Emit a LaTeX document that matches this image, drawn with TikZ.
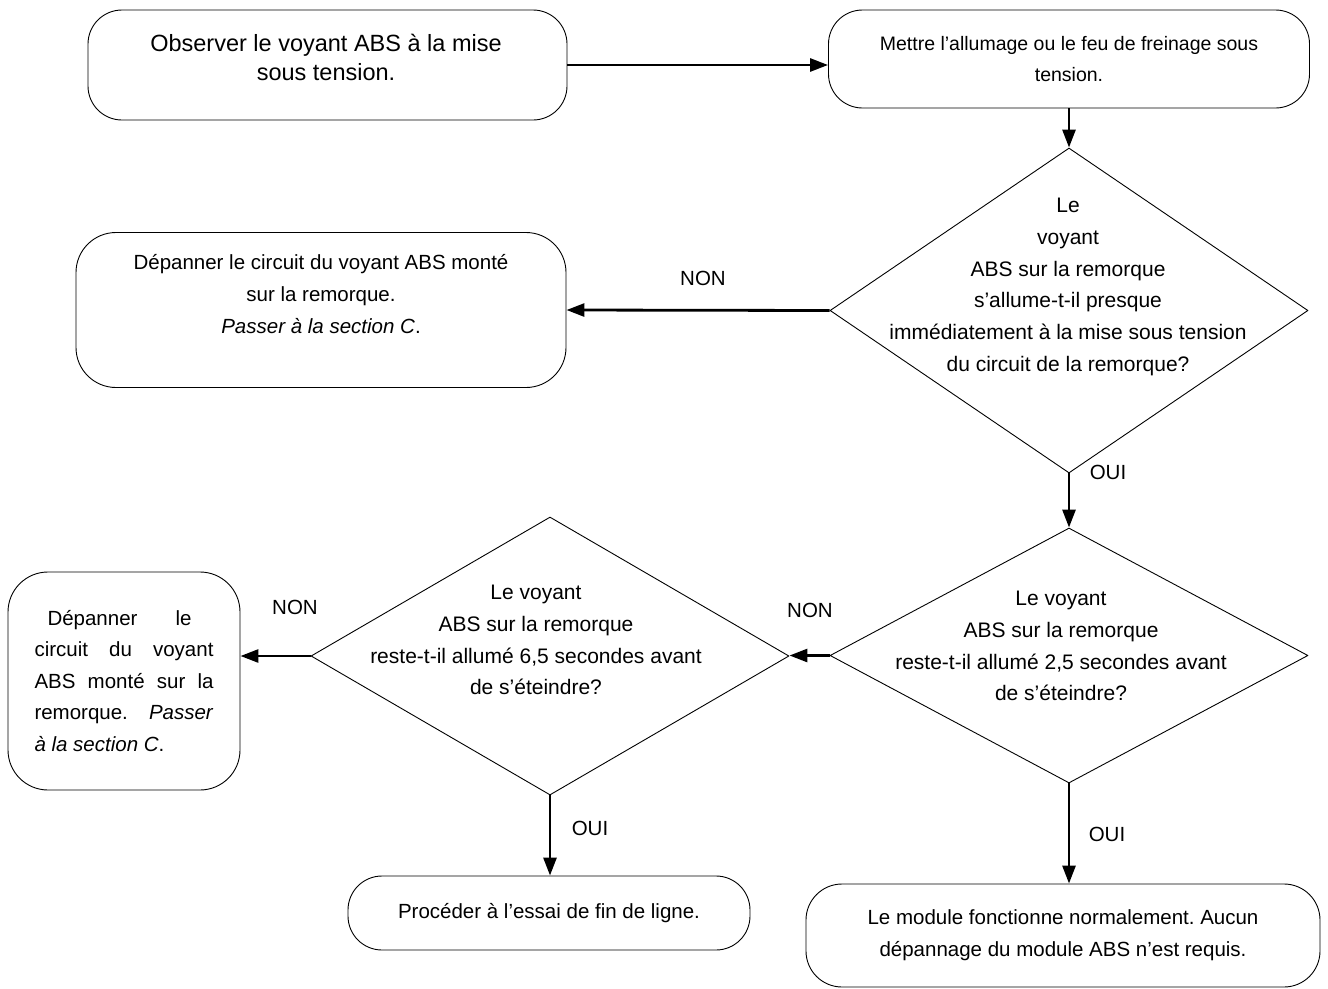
\documentclass[tikz,border=0pt]{standalone}
\usepackage{fontspec}
\setmainfont{Liberation Sans}
\usetikzlibrary{shapes.geometric,arrows.meta}
\frenchspacing
\tikzset{
  stepbox/.style={draw, line width=0.9pt, rounded corners=34pt, align=center, inner sep=0pt,
    font=\fontsize{20.5}{32}\selectfont},
  decision/.style={draw, diamond, line width=0.9pt, inner sep=0pt},
  qtext/.style={align=center, font=\fontsize{21}{31.8}\selectfont},
  flow/.style={-{Triangle[length=18pt,width=13pt]}, line width=2.8pt},
  answer/.style={font=\fontsize{20.5}{24}\selectfont}
}
\begin{document}
\begin{tikzpicture}[x=1pt, y=-1pt, line join=round]
	\useasboundingbox (0,0) rectangle (1328,988);
	% boites et losanges
	\node[stepbox, minimum width=479pt, minimum height=110pt] (obs) at (327.5,65) {};
	\node[align=center, font=\fontsize{23.5}{29}\selectfont] (obst) at (326,57) {Observer le voyant ABS à la mise\\sous tension.};
	\node[stepbox, minimum width=481pt, minimum height=98pt, font=\fontsize{19.5}{31}\selectfont] (mettre) at (1069,59) {Mettre l’allumage ou le feu de freinage sous\\tension.};
	\node[decision, minimum width=478pt, minimum height=325pt] (q1) at (1069,310.5) {};
	\node[qtext] (q1t) at (1068,287) {Le\\voyant\\ABS sur la remorque\\s’allume-t-il presque\\immédiatement à la mise sous tension\\du circuit de la remorque?};
	\node[stepbox, minimum width=490pt, minimum height=155pt, rounded corners=40pt] (circ1) at (321,310) {};
	\node[align=center, font=\fontsize{20.5}{32}\selectfont] (circ1t) at (321,294) {Dépanner le circuit du voyant ABS monté\\sur la remorque.\\\textit{Passer à la section C}.};
	\node[decision, minimum width=478pt, minimum height=255pt] (q2) at (1069,655.5) {};
	\node[qtext] (q2t) at (1061,646) {Le voyant\\ABS sur la remorque\\reste-t-il allumé 2,5 secondes avant\\de s’éteindre?};
	\node[decision, minimum width=478pt, minimum height=278pt] (q3) at (550,656) {};
	\node[qtext] (q3t) at (536,640) {Le voyant\\ABS sur la remorque\\reste-t-il allumé 6,5 secondes avant\\de s’éteindre?};
	\node[stepbox, minimum width=232pt, minimum height=218pt, rounded corners=40pt, align=left, font=\fontsize{20.5}{31.5}\selectfont] (circ2) at (124,681) {\hspace*{13pt}\makebox[144pt][s]{Dépanner le}\\\makebox[179pt][s]{circuit du voyant}\\\makebox[179pt][s]{ABS monté sur la}\\\makebox[179pt][s]{remorque. \textit{Passer}}\\\textit{à la section C}.};
	\node[stepbox, minimum width=402pt, minimum height=74pt] (essai) at (549,913) {Procéder à l’essai de fin de ligne.};
	\node[stepbox, minimum width=514pt, minimum height=103pt, rounded corners=36pt] (module) at (1063,935.5) {Le module fonctionne normalement. Aucun\\dépannage du module ABS n’est requis.};
	% fleches
	\draw[flow] (obs.east) -- (obs.east -| mettre.west);
	\draw[flow] (mettre.south) -- (q1.north);
	\draw[flow] (q1.west) -- (circ1.east);
	\draw[flow] (q1.south) -- (q2.north);
	\draw[flow] (q2.west) -- (q2.west -| q3.east);
	\draw[flow] (q3.west) -- (q3.west -| circ2.east);
	\draw[flow] (q3.south) -- (q3.south |- essai.north);
	\draw[flow] (q2.south) -- (q2.south |- module.north);
	% reponses
	\node[answer] (non1) at (703,278) {NON};
	\node[answer] (oui1) at (1108,472) {OUI};
	\node[answer] (non2) at (810,610) {NON};
	\node[answer] (non3) at (295,607) {NON};
	\node[answer] (oui2) at (590,828) {OUI};
	\node[answer] (oui3) at (1107,834) {OUI};
\end{tikzpicture}
\end{document}
